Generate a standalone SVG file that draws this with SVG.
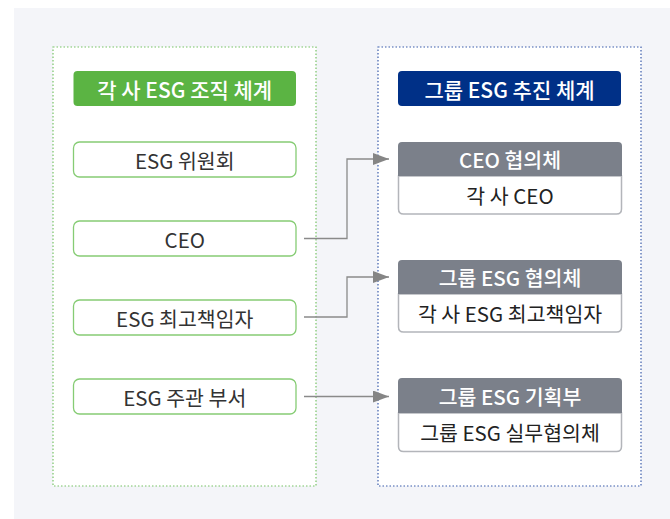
<svg xmlns="http://www.w3.org/2000/svg" width="670" height="519" viewBox="0 0 670 519">
  <defs>
    <style>
      text { font-family: "Noto Sans CJK KR", "Noto Sans", sans-serif; text-anchor: middle; dominant-baseline: central; }
      .title { font-size: 21px; font-weight: 500; fill: #ffffff; }
      .lnode rect { fill: #ffffff; stroke: #86cc74; stroke-width: 1.3; }
      .lnode text { font-size: 20.5px; fill: #333333; }
      .hdr { fill: #7b808a; }
      .hdr-t { font-size: 20.5px; font-weight: 500; fill: #ffffff; }
      .body { fill: #ffffff; stroke: #b3b5ba; stroke-width: 1.5; }
      .body-t { font-size: 20.5px; fill: #222222; }
      .conn path { fill: none; stroke: #8a8a8a; stroke-width: 1.3; }
    </style>
    <marker id="arr" viewBox="0 0 16 12" refX="16" refY="6" markerWidth="16" markerHeight="12" markerUnits="userSpaceOnUse" orient="auto">
      <path d="M0,0 L16,6 L0,12 Z" fill="#858585"/>
    </marker>
  </defs>

  <rect x="14" y="8" width="656" height="511" fill="#f4f5f9"/>

  <g id="left-group">
    <rect x="53" y="47" width="263" height="439" fill="#ffffff" stroke="#77c466" stroke-width="1.2" stroke-dasharray="1.5 2"/>
    <rect x="73.5" y="71" width="222.5" height="35" rx="4" fill="#5bb443"/>
    <text class="title" x="184.75" y="88.5">각 사 ESG 조직 체계</text>
  </g>

  <g id="right-group">
    <rect x="378" y="47" width="263" height="439" fill="#ffffff" stroke="#3b5cab" stroke-width="1.2" stroke-dasharray="1.5 2"/>
    <rect x="398" y="71" width="223" height="35" rx="4" fill="#003087"/>
    <text class="title" x="509.5" y="88.5">그룹 ESG 추진 체계</text>
  </g>

  <g id="node-esg-committee" class="lnode">
    <rect x="73.5" y="142" width="222.5" height="35" rx="6"/>
    <text x="184.75" y="159.5">ESG 위원회</text>
  </g>
  <g id="node-ceo" class="lnode">
    <rect x="73.5" y="221" width="222.5" height="35" rx="6"/>
    <text x="184.75" y="238.5">CEO</text>
  </g>
  <g id="node-esg-cso" class="lnode">
    <rect x="73.5" y="300" width="222.5" height="35" rx="6"/>
    <text x="184.75" y="317.5">ESG 최고책임자</text>
  </g>
  <g id="node-esg-dept" class="lnode">
    <rect x="73.5" y="379" width="222.5" height="35" rx="6"/>
    <text x="184.75" y="396.5">ESG 주관 부서</text>
  </g>

  <g id="node-ceo-council">
    <path class="body" d="M398.5,176 L398.5,209 Q398.5,214 403.5,214 L616.5,214 Q621.5,214 621.5,209 L621.5,176 Z"/>
    <path class="hdr" d="M398,176 L398,146 Q398,142 402,142 L618,142 Q622,142 622,146 L622,176 Z"/>
    <text class="hdr-t" x="510" y="159">CEO 협의체</text>
    <text class="body-t" x="510" y="195">각 사 CEO</text>
  </g>

  <g id="node-group-esg-council">
    <path class="body" d="M398.5,294 L398.5,327 Q398.5,332 403.5,332 L616.5,332 Q621.5,332 621.5,327 L621.5,294 Z"/>
    <path class="hdr" d="M398,294 L398,264 Q398,260 402,260 L618,260 Q622,260 622,264 L622,294 Z"/>
    <text class="hdr-t" x="510" y="277">그룹 ESG 협의체</text>
    <text class="body-t" x="510" y="313">각 사 ESG 최고책임자</text>
  </g>

  <g id="node-group-esg-planning">
    <path class="body" d="M398.5,413 L398.5,446.5 Q398.5,451.5 403.5,451.5 L616.5,451.5 Q621.5,451.5 621.5,446.5 L621.5,413 Z"/>
    <path class="hdr" d="M398,413 L398,382 Q398,378 402,378 L618,378 Q622,378 622,382 L622,413 Z"/>
    <text class="hdr-t" x="510" y="395.5">그룹 ESG 기획부</text>
    <text class="body-t" x="510" y="432">그룹 ESG 실무협의체</text>
  </g>

  <g id="connectors" class="conn">
    <path d="M304,238.5 L347,238.5 L347,159 L389,159" marker-end="url(#arr)"/>
    <path d="M304,317 L347,317 L347,277 L389,277" marker-end="url(#arr)"/>
    <path d="M304,396.5 L389,396.5" marker-end="url(#arr)"/>
  </g>
</svg>
